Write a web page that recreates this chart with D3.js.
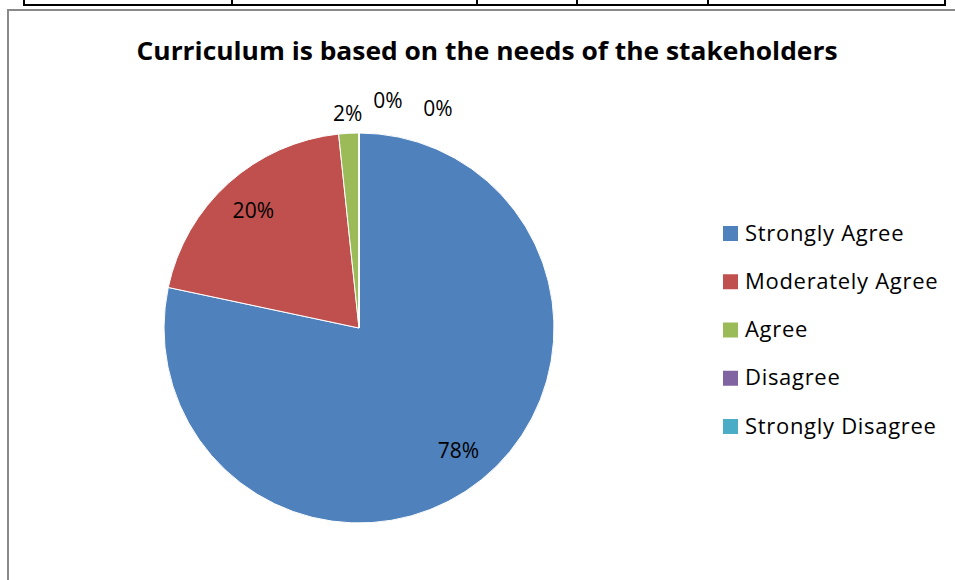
<!DOCTYPE html>
<html>
<head>
<meta charset="utf-8">
<script src="https://cdn.jsdelivr.net/npm/d3@7"></script>
<style>
  body { margin: 0; background: #fff; }
  svg { display: block; font-family: "Open Sans", Lato, sans-serif; }
</style>
</head>
<body>
<svg id="chart" width="955" height="580"></svg>
<script>
// survey answers (number of respondents)
const categories = ['Strongly Agree', 'Moderately Agree', 'Agree', 'Disagree', 'Strongly Disagree'];
const responses = [47, 12, 1, 0, 0];
const colors = ['#4F81BD', '#C0504D', '#9BBB59', '#8064A2', '#4BACC6'];
const title = 'Curriculum is based on the needs of the stakeholders';
// columns of the table row above the chart
const tableCols = [24, 232, 477, 577, 708, 945];

const svg = d3.select('#chart');
const W = 955, H = 580;
const total = d3.sum(responses);

// table remnant at the top
const x = d3.scaleIdentity();
svg.append('line')
    .attr('x1', x(tableCols[0])).attr('x2', x(tableCols[tableCols.length - 1]))
    .attr('y1', 5).attr('y2', 5)
    .attr('stroke', '#000').attr('stroke-width', 2);
svg.selectAll('.col').data(tableCols).enter()
    .append('line')
        .attr('class', 'col')
        .attr('x1', d => x(d)).attr('x2', d => x(d))
        .attr('y1', 0).attr('y2', 6)
        .attr('stroke', '#000').attr('stroke-width', 2);

// chart frame
svg.append('rect')
    .attr('x', 8).attr('y', 10)
    .attr('width', W).attr('height', H)
    .attr('fill', '#fff')
    .attr('stroke', '#8a8a8a').attr('stroke-width', 2);

svg.append('text')
    .attr('x', 487).attr('y', 60)
    .attr('text-anchor', 'middle')
    .attr('font-size', 25).attr('font-weight', 'bold')
    .attr('textLength', 701).attr('lengthAdjust', 'spacingAndGlyphs')
    .text(title);

const cx = 359, cy = 328, r = 195;
const pie = d3.pie().sort(null).value(d => d)(responses);
const arc = d3.arc().innerRadius(0).outerRadius(r);

const g = svg.append('g').attr('transform', 'translate(' + cx + ',' + cy + ')');
g.selectAll('path').data(pie).enter()
    .append('path')
        .attr('d', arc)
        .attr('fill', (d, i) => colors[i])
        .attr('stroke', '#fff').attr('stroke-width', 1);

// labels: inside for big slices, outside for tiny ones (nudged to avoid overlap)
const inner = d3.arc().innerRadius(r * 0.81).outerRadius(r * 0.81);
const outer = d3.arc().innerRadius(r + 20).outerRadius(r + 20);
const pct = v => Math.round(v / total * 100);
let k = 0;
g.selectAll('.lbl').data(pie).enter()
    .append('text')
        .attr('class', 'lbl')
        .attr('text-anchor', 'middle')
        .attr('dy', '0.35em')
        .attr('font-size', 21)
        .attr('fill', '#000')
        .attr('transform', function(d) {
            let p;
            if (pct(d.data) >= 5) {
                p = inner.centroid(d);
            } else {
                p = outer.centroid(d);
                if (d.data === 0) {
                    k++;
                    p = [p[0] + k * 47 - (k === 1 ? 18 : 15), p[1] - (k === 1 ? 12 : 4)];
                }
            }
            return 'translate(' + p[0] + ',' + p[1] + ')';
        })
        .text(d => pct(d.data) + '%');

// legend
const ly = d3.scalePoint().domain(categories).range([233, 426]);
const leg = svg.selectAll('.leg').data(categories).enter()
    .append('g')
        .attr('class', 'leg')
        .attr('transform', d => 'translate(723,' + ly(d) + ')');
leg.append('rect')
    .attr('x', 0).attr('y', -7)
    .attr('width', 15).attr('height', 15)
    .attr('fill', (d, i) => colors[i]);
leg.append('text')
    .attr('x', 22).attr('dy', '0.35em')
    .attr('font-size', 22)
    .attr('letter-spacing', 0.7)
    .text(d => d);
</script>
</body>
</html>
